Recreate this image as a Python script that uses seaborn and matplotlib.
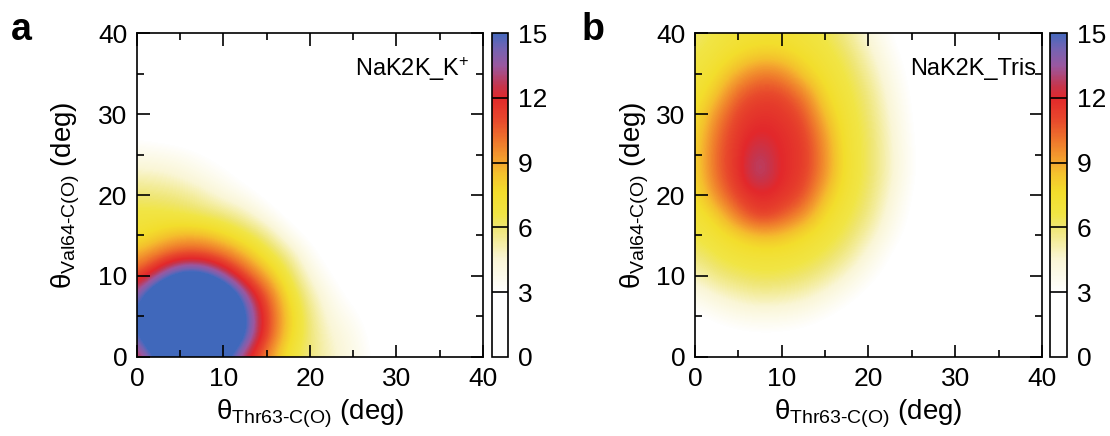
import numpy as np
import matplotlib
matplotlib.use("Agg")
import matplotlib.pyplot as plt
import seaborn as sns
from matplotlib.colors import LinearSegmentedColormap, Normalize
from matplotlib.ticker import MultipleLocator

# ---------------- data ----------------
# grid of angles (deg) shared by both axes
theta_grid = [0, 2.5, 5, 7.5, 10, 12.5, 15, 17.5, 20, 22.5, 25, 27.5, 30, 32.5, 35, 37.5, 40]

# panel a: NaK2K_K+ ; rows = theta_Val64 (0 -> 40), columns = theta_Thr63 (0 -> 40)
energy_k = [
    [11.6, 15.4, 18.7, 18.6, 15.6, 12.3, 9.7, 7.0, 5.8, 4.8, 3.9, 2.9, 2.0, 1.4, 1.0, 0.8, 0.5],
    [14.0, 19.6, 22.7, 22.6, 19.8, 14.8, 11.1, 7.9, 5.9, 4.6, 3.8, 2.7, 1.9, 1.4, 1.0, 0.8, 0.5],
    [14.6, 20.5, 23.7, 23.6, 20.7, 15.2, 11.3, 8.2, 5.8, 4.1, 3.4, 2.4, 1.8, 1.4, 1.0, 0.8, 0.5],
    [13.5, 18.5, 21.5, 21.5, 18.7, 13.8, 10.7, 7.7, 5.3, 3.7, 2.7, 2.1, 1.6, 1.3, 1.0, 0.7, 0.5],
    [10.9, 13.2, 16.2, 16.2, 13.6, 11.0, 9.0, 6.7, 4.4, 3.0, 2.3, 1.8, 1.5, 1.2, 0.9, 0.6, 0.5],
    [8.9, 10.2, 11.1, 11.1, 10.3, 8.9, 7.2, 5.6, 3.5, 2.5, 2.0, 1.6, 1.3, 1.1, 0.8, 0.6, 0.5],
    [7.2, 8.0, 8.7, 8.7, 7.9, 6.9, 5.7, 3.8, 2.7, 2.1, 1.8, 1.5, 1.2, 1.0, 0.7, 0.5, 0.5],
    [6.8, 6.8, 6.6, 6.3, 5.9, 5.1, 3.8, 2.7, 2.1, 1.8, 1.5, 1.3, 1.0, 0.8, 0.6, 0.5, 0.5],
    [6.0, 5.9, 5.7, 5.1, 4.2, 3.6, 2.7, 2.1, 1.8, 1.6, 1.4, 1.2, 0.9, 0.7, 0.5, 0.5, 0.5],
    [4.9, 4.8, 4.4, 3.8, 3.3, 2.6, 2.1, 1.8, 1.6, 1.4, 1.2, 1.0, 0.8, 0.6, 0.5, 0.5, 0.5],
    [3.8, 3.7, 3.5, 3.1, 2.6, 2.2, 1.9, 1.6, 1.5, 1.3, 1.1, 0.9, 0.7, 0.6, 0.5, 0.5, 0.5],
    [2.8, 2.6, 2.4, 2.1, 1.8, 1.6, 1.4, 1.3, 1.1, 1.0, 0.9, 0.8, 0.6, 0.5, 0.5, 0.5, 0.5],
    [1.8, 1.8, 1.7, 1.6, 1.5, 1.4, 1.2, 1.1, 1.0, 0.9, 0.8, 0.7, 0.6, 0.5, 0.5, 0.5, 0.5],
    [1.4, 1.4, 1.3, 1.3, 1.2, 1.1, 1.0, 0.9, 0.8, 0.7, 0.6, 0.6, 0.5, 0.5, 0.5, 0.5, 0.5],
    [1.1, 1.1, 1.1, 1.0, 1.0, 0.9, 0.8, 0.8, 0.7, 0.6, 0.6, 0.5, 0.5, 0.5, 0.5, 0.5, 0.5],
    [0.9, 0.9, 0.9, 0.8, 0.8, 0.8, 0.7, 0.7, 0.6, 0.6, 0.5, 0.5, 0.5, 0.5, 0.5, 0.5, 0.5],
    [0.7, 0.7, 0.7, 0.7, 0.7, 0.6, 0.6, 0.6, 0.5, 0.5, 0.5, 0.5, 0.5, 0.5, 0.5, 0.5, 0.5],
]

# panel b: NaK2K_Tris
energy_tris = [
    [1.8, 2.0, 2.1, 2.1, 2.1, 2.0, 1.9, 1.7, 1.5, 1.4, 1.2, 1.1, 1.0, 0.9, 0.8, 0.7, 0.7],
    [2.2, 2.5, 2.7, 2.8, 2.8, 2.6, 2.4, 2.1, 1.8, 1.5, 1.4, 1.2, 1.0, 0.9, 0.9, 0.8, 0.7],
    [2.8, 3.3, 3.7, 3.9, 3.8, 3.6, 3.1, 2.6, 2.2, 1.8, 1.5, 1.3, 1.2, 1.0, 0.9, 0.8, 0.7],
    [3.7, 4.5, 5.0, 5.3, 5.2, 4.9, 4.2, 3.4, 2.7, 2.1, 1.8, 1.5, 1.3, 1.1, 0.9, 0.8, 0.8],
    [4.9, 5.8, 6.2, 6.5, 6.4, 6.1, 5.5, 4.5, 3.4, 2.6, 2.0, 1.6, 1.3, 1.1, 1.0, 0.9, 0.8],
    [5.9, 6.6, 7.0, 7.1, 7.1, 6.9, 6.4, 5.6, 4.2, 3.0, 2.2, 1.8, 1.4, 1.2, 1.0, 0.9, 0.8],
    [6.6, 7.2, 7.9, 8.6, 8.4, 7.6, 7.0, 6.3, 5.1, 3.6, 2.6, 1.9, 1.5, 1.3, 1.1, 0.9, 0.8],
    [7.0, 8.0, 10.1, 11.6, 10.8, 9.5, 7.6, 6.7, 5.8, 4.1, 2.8, 2.1, 1.6, 1.3, 1.1, 1.0, 0.8],
    [7.4, 9.6, 11.4, 11.9, 11.7, 11.0, 8.5, 7.0, 6.1, 4.5, 3.0, 2.1, 1.7, 1.4, 1.1, 1.0, 0.9],
    [7.7, 10.4, 11.7, 13.4, 11.8, 11.5, 9.4, 7.2, 6.3, 4.8, 3.2, 2.2, 1.7, 1.4, 1.2, 1.0, 0.9],
    [7.7, 10.5, 11.7, 13.1, 11.8, 11.6, 9.5, 7.2, 6.3, 4.8, 3.2, 2.2, 1.7, 1.4, 1.2, 1.0, 0.9],
    [7.6, 10.2, 11.6, 12.2, 11.8, 11.4, 9.2, 7.1, 6.3, 4.7, 3.1, 2.2, 1.7, 1.4, 1.1, 1.0, 0.9],
    [7.3, 9.5, 11.3, 11.7, 11.6, 10.9, 8.4, 7.0, 6.1, 4.5, 3.0, 2.1, 1.7, 1.4, 1.1, 1.0, 0.9],
    [7.1, 8.3, 10.5, 11.2, 11.1, 9.9, 7.7, 6.8, 5.9, 4.2, 2.9, 2.1, 1.6, 1.3, 1.1, 1.0, 0.8],
    [6.8, 7.6, 8.9, 10.0, 9.7, 8.2, 7.2, 6.6, 5.4, 3.9, 2.7, 2.0, 1.5, 1.3, 1.1, 0.9, 0.8],
    [6.5, 7.0, 7.6, 8.0, 7.9, 7.4, 6.9, 6.2, 4.9, 3.5, 2.5, 1.9, 1.5, 1.3, 1.1, 0.9, 0.8],
    [6.0, 6.7, 7.0, 7.2, 7.2, 6.9, 6.5, 5.6, 4.3, 3.1, 2.2, 1.8, 1.5, 1.2, 1.0, 0.9, 0.8],
]

panel_letters = ["a", "b"]
panel_names = ["NaK2K_K$^{+}$", "NaK2K_Tris"]
axis_ticks = [0, 10, 20, 30, 40]
cbar_ticks = [0, 3, 6, 9, 12, 15]
cbar_lines = [3, 6, 9, 12]

# ---------------- style ----------------
sns.set_style("ticks")
plt.rcParams["font.family"] = ["Liberation Sans", "DejaVu Sans"]
plt.rcParams["mathtext.fontset"] = "custom"
plt.rcParams["mathtext.rm"] = "Liberation Sans"
plt.rcParams["mathtext.it"] = "Liberation Sans:italic"
plt.rcParams["mathtext.bf"] = "Liberation Sans:bold"
for key in ["text.color", "axes.labelcolor", "xtick.color", "ytick.color",
            "axes.edgecolor"]:
    plt.rcParams[key] = "black"

vmax = 15.0
stops = [
    (0.0, "#ffffff"), (3.0, "#ffffff"), (4.5, "#faf6d6"), (6.0, "#efe673"),
    (6.6, "#f1e545"), (7.6, "#f3de2c"), (8.5, "#f4c12d"), (9.0, "#f4a72f"),
    (10.0, "#ef782c"), (11.0, "#e8482c"), (12.0, "#e2282b"), (12.6, "#c4364f"),
    (13.5, "#9a58a0"), (14.3, "#7463b2"), (15.0, "#4669bd"),
]
cmap = LinearSegmentedColormap.from_list("fe", [(v / vmax, c) for v, c in stops])
cmap.set_over("#4068bb")
norm = Normalize(0, vmax)

fig = plt.figure(figsize=(11.10, 4.36), dpi=100)

ax_rects = [[0.1234, 0.1812, 0.3117, 0.7431], [0.6261, 0.1812, 0.3126, 0.7431]]
cb_rects = [[0.4432, 0.1812, 0.0147, 0.7431], [0.9459, 0.1812, 0.0153, 0.7431]]
letter_x = [0.010, 0.524]
name_x = [0.962, 0.983]
ylab_x = [-0.16, -0.128]

xlabel = r"$\mathrm{θ}_{\mathrm{Thr63\text{-}C(O)}}$ (deg)"
ylabel = r"$\mathrm{θ}_{\mathrm{Val64\text{-}C(O)}}$ (deg)"

step = theta_grid[1] - theta_grid[0]
ext = [theta_grid[0] - step / 2, theta_grid[-1] + step / 2,
       theta_grid[0] - step / 2, theta_grid[-1] + step / 2]

for i, data in enumerate([energy_k, energy_tris]):
    ax = fig.add_axes(ax_rects[i])
    ax.imshow(np.array(data), origin="lower", extent=ext, cmap=cmap, norm=norm,
              interpolation="bicubic", interpolation_stage="data", aspect="auto")
    ax.set_xlim(0, 40)
    ax.set_ylim(0, 40)
    ax.set_xticks(axis_ticks)
    ax.set_yticks(axis_ticks)
    ax.xaxis.set_minor_locator(MultipleLocator(5))
    ax.yaxis.set_minor_locator(MultipleLocator(5))
    ax.tick_params(which="both", direction="in", top=True, right=True,
                   color="black", width=1.2)
    ax.tick_params(which="major", length=9, labelsize=19, pad=7)
    ax.tick_params(which="minor", length=5)
    for sp in ax.spines.values():
        sp.set_color("black")
        sp.set_linewidth(1.2)
    ax.set_xlabel(xlabel, fontsize=20)
    ax.set_ylabel(ylabel, fontsize=20)
    ax.xaxis.set_label_coords(0.5, -0.125)
    ax.yaxis.set_label_coords(ylab_x[i], 0.5)
    ax.text(name_x[i], 0.89, panel_names[i], transform=ax.transAxes,
            ha="right", va="center", fontsize=17)
    fig.text(letter_x[i], 0.908, panel_letters[i], fontsize=27,
             fontweight="bold", va="baseline", ha="left")

    cax = fig.add_axes(cb_rects[i])
    sm = plt.cm.ScalarMappable(norm=norm, cmap=cmap)
    cb = fig.colorbar(sm, cax=cax, ticks=cbar_ticks)
    cb.ax.tick_params(length=0, labelsize=19, pad=7)
    cb.outline.set_linewidth(1.2)
    cb.outline.set_edgecolor("black")
    for v in cbar_lines:
        cax.axhline(v, color="black", lw=1.2)

fig.savefig("out.png", dpi=100)
